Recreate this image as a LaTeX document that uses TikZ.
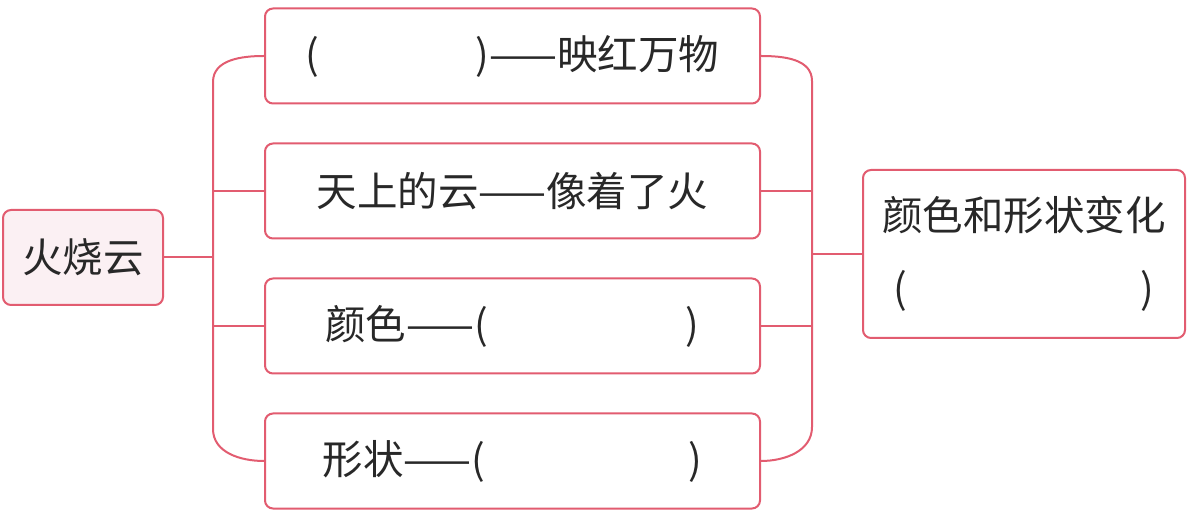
\documentclass[tikz,border=0pt]{standalone}
\usepackage{fontspec}
\setmainfont{Noto Sans CJK SC}
\usetikzlibrary{positioning, calc}
\definecolor{linepink}{RGB}{226,92,112}
\definecolor{fillpink}{RGB}{251,240,243}
\definecolor{textgray}{RGB}{40,40,40}

\begin{document}
\begin{tikzpicture}[
    x=1pt, y=1pt,
    node distance=38pt and 0pt,
    box/.style={rectangle, rounded corners=8pt, draw=linepink, line width=2pt, fill=white, minimum width=495pt, minimum height=95pt, inner sep=0pt, text=textgray, font=\fontsize{40.5}{47}\selectfont},
    rootbox/.style={box, fill=fillpink, minimum width=160pt},
    resultbox/.style={box, minimum width=322pt, minimum height=168pt, align=center},
    link/.style={draw=linepink, line width=2pt}
  ]
    \useasboundingbox (0,0) rectangle (1201,511);
    \node[rootbox] (hsy) at (83,253.5) {火烧云};
    \node[box] (glow) at (512.5,455) {(\hspace{156pt})——映红万物};
    \node[box, below=of glow] (cloud) {天上的云——像着了火};
    \node[box, below=of cloud] (color) {颜色——(\hspace{198pt})};
    \node[box, below=of color] (shape) {形状——(\hspace{203pt})};
    \node[resultbox] (change) at (1024,257) {颜色和形状变化\\[26pt](\hspace{233pt})};
    \coordinate (lt) at (213,429);
    \coordinate (lb) at (213,82);
    \coordinate (rt) at (812,430);
    \coordinate (rb) at (812,84);
    \draw[link] (glow.west) to[out=180, in=90] (lt) -- (lb) to[out=-90, in=180] (shape.west);
    \draw[link] (cloud.west) -- (cloud.west -| lt);
    \draw[link] (color.west) -- (color.west -| lt);
    \draw[link] (hsy.east) -- (hsy.east -| lt);
    \draw[link] (glow.east) to[out=0, in=90] (rt) -- (rb) to[out=-90, in=0] (shape.east);
    \draw[link] (cloud.east) -- (cloud.east -| rt);
    \draw[link] (color.east) -- (color.east -| rt);
    \draw[link] (change.west) -- (change.west -| rt);
  \end{tikzpicture}
\end{document}
